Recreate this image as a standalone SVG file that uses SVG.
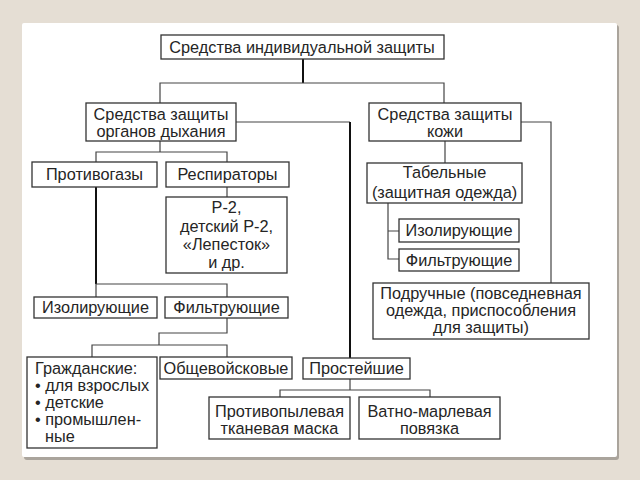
<svg xmlns="http://www.w3.org/2000/svg" width="640" height="480" viewBox="0 0 640 480">
<style>
.box{fill:#fff;stroke:#333;stroke-width:1.3}
.t{font-family:"Liberation Sans",Arial,sans-serif;font-size:16.3px;fill:#252525;text-anchor:middle}
.l{text-anchor:start}
.c{fill:none;stroke:#444;stroke-width:1.2}
.k{fill:none;stroke:#111;stroke-width:2}
</style>
<rect x="0" y="0" width="640" height="480" fill="#e5ded4"/>
<rect x="24" y="25" width="595" height="435" rx="3" fill="#aaa49c"/>
<rect x="22" y="23" width="595" height="434" rx="2" fill="#fff"/>

<g id="connectors">
<path class="k" d="M303 59V83"/>
<path class="c" d="M160 103V83H444V103"/>
<path class="c" d="M236 122H350"/>
<path class="k" d="M350 122V358"/>
<path class="c" d="M160 141V152M96 162V152H227V162"/>
<path class="c" d="M227 187V197"/>
<path class="k" d="M96 187V284"/>
<path class="c" d="M96 297V284H227V297"/>
<path class="c" d="M227 318V333H159V345M92 357V345H227V357"/>
<path class="c" d="M350 379V390M280 397V390H430V397"/>
<path class="c" d="M445 141V163"/>
<path class="c" d="M521 122H551V283"/>
<path class="c" d="M388 203V259H399M388 231H399"/>
</g>

<g id="n-top"><rect class="box" x="161" y="35" width="283" height="24"/><text class="t" x="302" y="52.5">Средства индивидуальной защиты</text></g>
<g id="n-szod"><rect class="box" x="86" y="103" width="150" height="38"/><text class="t" x="161" y="120">Средства защиты</text><text class="t" x="161" y="137">органов дыхания</text></g>
<g id="n-szk"><rect class="box" x="369" y="103" width="152" height="38"/><text class="t" x="445" y="120">Средства защиты</text><text class="t" x="445" y="137">кожи</text></g>
<g id="n-protivogazy"><rect class="box" x="32" y="162" width="125" height="25"/><text class="t" x="94.5" y="180">Противогазы</text></g>
<g id="n-respiratory"><rect class="box" x="166" y="162" width="123" height="25"/><text class="t" x="227.5" y="180">Респираторы</text></g>
<g id="n-r2"><rect class="box" x="166" y="197" width="121" height="76"/><text class="t" x="226.5" y="213">Р-2,</text><text class="t" x="226.5" y="232">детский Р-2,</text><text class="t" x="226.5" y="250">«Лепесток»</text><text class="t" x="226.5" y="268">и др.</text></g>
<g id="n-izol-l"><rect class="box" x="34" y="297" width="123" height="21"/><text class="t" x="95.5" y="313">Изолирующие</text></g>
<g id="n-filt-l"><rect class="box" x="165" y="297" width="123" height="21"/><text class="t" x="226.5" y="313">Фильтрующие</text></g>
<g id="n-grazhd"><rect class="box" x="27" y="357" width="130" height="91"/><text class="t l" x="35" y="374">Гражданские:</text><text class="t l" x="35" y="391">• для взрослых</text><text class="t l" x="35" y="408">• детские</text><text class="t l" x="35" y="425">• промышлен-</text><text class="t l" x="45" y="442">ные</text></g>
<g id="n-obsh"><rect class="box" x="160" y="357" width="132" height="22"/><text class="t" x="226" y="373.5">Общевойсковые</text></g>
<g id="n-prost"><rect class="box" x="303" y="358" width="107" height="21"/><text class="t" x="356.5" y="374">Простейшие</text></g>
<g id="n-maska"><rect class="box" x="209" y="397" width="141" height="42"/><text class="t" x="279.5" y="417">Противопылевая</text><text class="t" x="279.5" y="434">тканевая маска</text></g>
<g id="n-povyazka"><rect class="box" x="359" y="397" width="141" height="42"/><text class="t" x="429.5" y="417">Ватно-марлевая</text><text class="t" x="429.5" y="434">повязка</text></g>
<g id="n-tabel"><rect class="box" x="367" y="163" width="155" height="40"/><text class="t" x="444.5" y="178">Табельные</text><text class="t" x="444.5" y="198">(защитная одежда)</text></g>
<g id="n-izol-r"><rect class="box" x="399" y="219" width="120" height="23"/><text class="t" x="459" y="236">Изолирующие</text></g>
<g id="n-filt-r"><rect class="box" x="399" y="249" width="120" height="22"/><text class="t" x="459" y="265.5">Фильтрующие</text></g>
<g id="n-podruch"><rect class="box" x="373" y="283" width="216" height="56"/><text class="t" x="481" y="299">Подручные (повседневная</text><text class="t" x="481" y="316">одежда, приспособления</text><text class="t" x="481" y="333">для защиты)</text></g>
</svg>
